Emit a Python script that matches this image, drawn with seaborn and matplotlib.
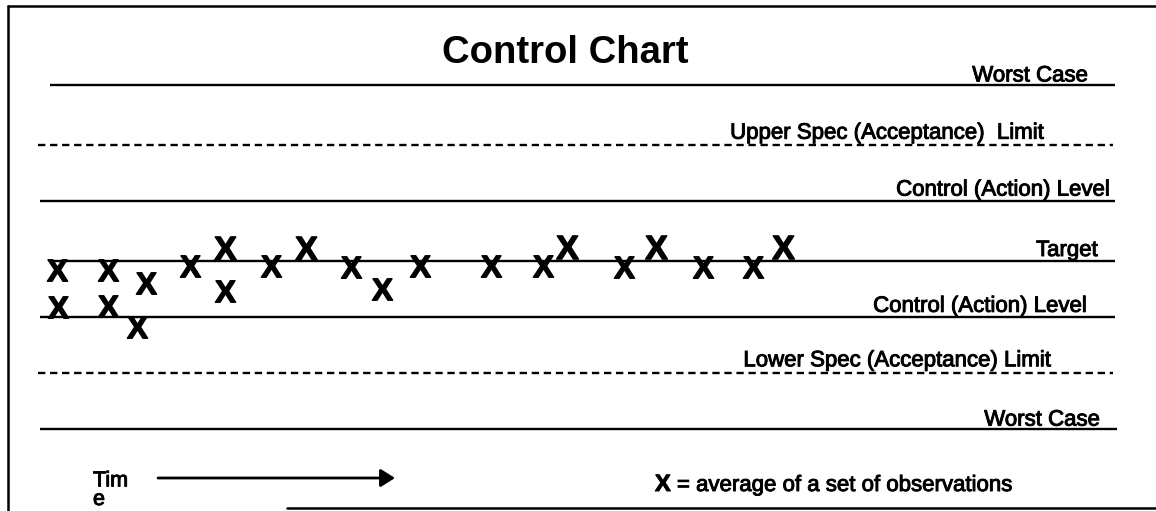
import matplotlib.pyplot as plt
import matplotlib.patheffects as pe
import seaborn as sns
import pandas as pd
from matplotlib.lines import Line2D

sns.set_theme(style="white")
plt.rcParams['font.family'] = ['Liberation Sans', 'DejaVu Sans']
plt.rcParams['mathtext.fontset'] = 'custom'
plt.rcParams['mathtext.bf'] = 'Liberation Sans:bold'

# reference levels, target = 0
level_names = ['Worst Case', 'Upper Spec (Acceptance)  Limit', 'Control (Action) Level', 'Target',
               'Control (Action) Level', 'Lower Spec (Acceptance) Limit', 'Worst Case']
level_values = [3.08, 2.04, 1.06, 0.0, -0.98, -1.97, -2.94]
level_dashed = [False, True, False, False, False, True, False]

# averages of sets of observations over time
time = [57, 58, 108, 108, 146, 137, 190, 225, 225, 271, 306, 351, 382, 420, 491,
        543, 567, 624, 656, 703, 753, 783]
average = [-0.16, -0.81, -0.16, -0.79, -0.39, -1.16, -0.09, 0.23, -0.53, -0.09, 0.23,
           -0.11, -0.49, -0.09, -0.09, -0.09, 0.25, -0.11, 0.25, -0.11, -0.11, 0.25]

df = pd.DataFrame({'time': time, 'average': average})

fig = plt.figure(figsize=(11.56, 5.11), dpi=100)
ax = fig.add_axes([0, 0, 1, 1])
ax.set_xlim(0, 1156)
ax.set_ylim(-250 / 57, 261 / 57)
ax.axis('off')

heavy = [pe.withStroke(linewidth=0.7, foreground='black')]

# level lines + labels
line_start = [50, 38, 40, 50, 40, 38, 40]
line_end = [1115, 1113, 1115, 1115, 1115, 1113, 1117]
label_right = [1088, 1045, 1110, 1098, 1087, 1052, 1100]
label_pad = [4, 6, 5, 5, 5, 7, 3]
for name, val, dashed, x0, x1, xr, pad in zip(level_names, level_values, level_dashed,
                                              line_start, line_end, label_right, label_pad):
    ls = (0, (3.1, 2.0)) if dashed else '-'
    ax.plot([x0, x1], [val, val], color='black', lw=1.7, ls=ls, solid_capstyle='butt')
    ax.annotate(name, xy=(xr, val), xytext=(0, pad), textcoords='offset pixels',
                ha='right', va='baseline', fontsize=16, color='black', path_effects=heavy)

# X markers
big = df[df['average'] > 0]
small = df[df['average'] <= 0]
sns.scatterplot(data=small, x='time', y='average', marker=r'$\mathbf{X}$', s=240,
                color='black', edgecolor='black', linewidth=1.0, ax=ax)
sns.scatterplot(data=big, x='time', y='average', marker=r'$\mathbf{X}$', s=280,
                color='black', edgecolor='black', linewidth=1.0, ax=ax)

ax.text(565, (261 - 63) / 57, 'Control Chart', ha='center', va='baseline',
        fontsize=27.5, fontweight='bold', color='black')

# time arrow
ya = (261 - 478) / 57
ax.annotate('', xy=(395, ya), xytext=(158, ya),
            arrowprops=dict(arrowstyle='-|>,head_length=0.86,head_width=0.54',
                            color='black', lw=2, shrinkA=0, shrinkB=0, mutation_scale=10))
ax.text(93, (261 - 505) / 57, 'Tim\ne', ha='left', va='baseline', fontsize=15.5,
        color='black', linespacing=0.85, path_effects=heavy)

tx = ax.text(655, (261 - 491) / 57, 'X', ha='left', va='baseline', fontsize=17,
             fontweight='bold', color='black', path_effects=heavy)
ax.annotate(' = average of a set of observations', xy=(1, 0), xycoords=tx,
            ha='left', va='bottom', fontsize=16, color='black', path_effects=heavy)

# frame lines
W, H = 1156, 511
for xs, ys in [([8, 8], [6, H]), ([8, W], [6, 6]), ([287, W], [508, 508])]:
    fig.add_artist(Line2D([x / W for x in xs], [1 - y / H for y in ys],
                          transform=fig.transFigure, color='black', lw=1.8))

fig.savefig('out.png', dpi=100)
